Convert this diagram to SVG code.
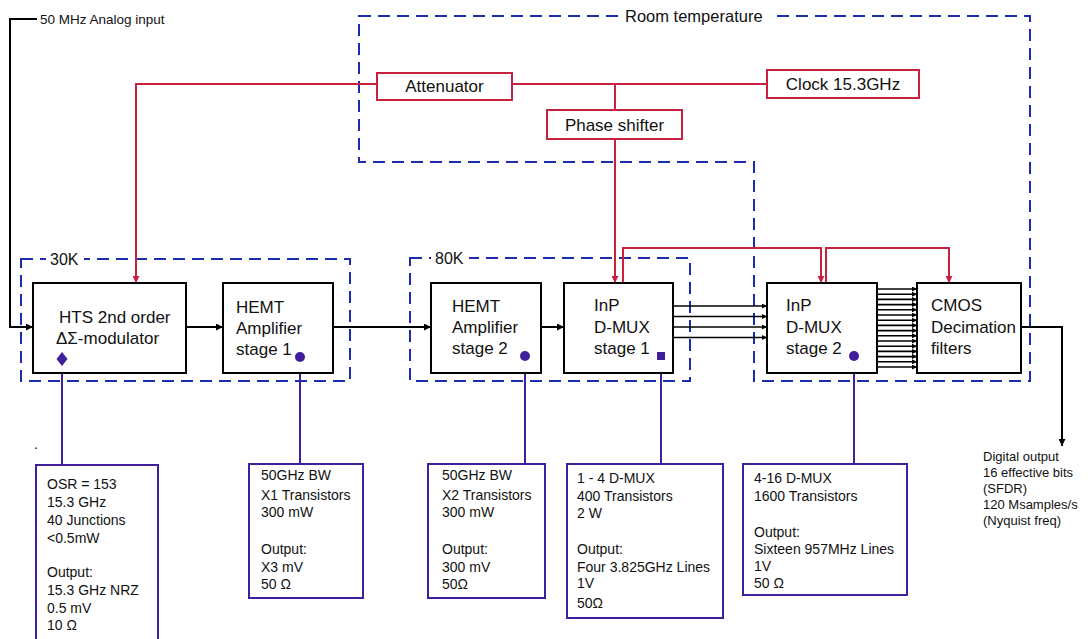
<svg xmlns="http://www.w3.org/2000/svg" width="1088" height="639" viewBox="0 0 1088 639">
<style>
text{font-family:"Liberation Sans",Arial,sans-serif;fill:#111}
.blk{fill:#fff;stroke:#000;stroke-width:2}
.red{fill:#fff;stroke:#c8203f;stroke-width:2}
.pur{fill:#fff;stroke:#3f1f9c;stroke-width:2}
.zone{fill:none;stroke:#1c2cae;stroke-width:2;stroke-dasharray:12 7}
.big{font-size:17px}
.lbl{font-size:16px}
.info{font-size:14px}
.sm{font-size:13px}
.wl{fill:none;stroke:#000;stroke-width:2}
.rl{fill:none;stroke:#c8203f;stroke-width:2}
.pl{fill:none;stroke:#3f1f9c;stroke-width:2}
.bus{fill:none;stroke:#000;stroke-width:1.6}
</style>
<defs>
<marker id="ab" viewBox="0 0 10 10" refX="10" refY="5" markerWidth="8" markerHeight="7" markerUnits="userSpaceOnUse" orient="auto"><path d="M0,0 L10,5 L0,10 z" fill="#000"/></marker>
<marker id="abs" viewBox="0 0 10 10" refX="10" refY="5" markerWidth="7" markerHeight="5" markerUnits="userSpaceOnUse" orient="auto"><path d="M0,0 L10,5 L0,10 z" fill="#000"/></marker>
<marker id="ar" viewBox="0 0 10 10" refX="10" refY="5" markerWidth="8" markerHeight="7" markerUnits="userSpaceOnUse" orient="auto"><path d="M0,0 L10,5 L0,10 z" fill="#c8203f"/></marker>
</defs>
<rect width="1088" height="639" fill="#fff"/>

<g id="zones">
<path class="zone" d="M359,16 H1030 V381 H754 V162 H359 Z"/>
<rect class="zone" x="21" y="259" width="329" height="122"/>
<rect class="zone" x="410" y="258" width="280" height="123"/>
<rect x="620" y="8" width="152" height="16" fill="#fff"/>
<text x="625" y="22" font-size="16.5">Room temperature</text>
<rect x="46" y="250" width="38" height="16" fill="#fff"/>
<text x="50" y="265" class="lbl">30K</text>
<rect x="431" y="249" width="38" height="16" fill="#fff"/>
<text x="435" y="264" class="lbl">80K</text>
</g>

<g id="connectors">
<path class="wl" d="M37,19 H10 V327 H33" marker-end="url(#ab)"/>
<path class="wl" d="M186,327 H223" marker-end="url(#ab)"/>
<path class="wl" d="M333,327 H431" marker-end="url(#ab)"/>
<path class="wl" d="M541,327 H564" marker-end="url(#ab)"/>
<path class="bus" d="M673,306 H767" marker-end="url(#abs)"/>
<path class="bus" d="M673,316.5 H767" marker-end="url(#abs)"/>
<path class="bus" d="M673,327 H767" marker-end="url(#abs)"/>
<path class="bus" d="M673,337.5 H767" marker-end="url(#abs)"/>
<g class="bus">
<path d="M877,289 H917" marker-end="url(#abs)"/>
<path d="M877,294.2 H917" marker-end="url(#abs)"/>
<path d="M877,299.4 H917" marker-end="url(#abs)"/>
<path d="M877,304.6 H917" marker-end="url(#abs)"/>
<path d="M877,309.8 H917" marker-end="url(#abs)"/>
<path d="M877,315 H917" marker-end="url(#abs)"/>
<path d="M877,320.2 H917" marker-end="url(#abs)"/>
<path d="M877,325.4 H917" marker-end="url(#abs)"/>
<path d="M877,330.6 H917" marker-end="url(#abs)"/>
<path d="M877,335.8 H917" marker-end="url(#abs)"/>
<path d="M877,341 H917" marker-end="url(#abs)"/>
<path d="M877,346.2 H917" marker-end="url(#abs)"/>
<path d="M877,351.4 H917" marker-end="url(#abs)"/>
<path d="M877,356.6 H917" marker-end="url(#abs)"/>
<path d="M877,361.8 H917" marker-end="url(#abs)"/>
<path d="M877,367 H917" marker-end="url(#abs)"/>
</g>
<path class="wl" d="M1021,327 H1062 V446" marker-end="url(#ab)"/>
<path class="rl" d="M377,84 H136 V283" marker-end="url(#ar)"/>
<path class="rl" d="M512,84 H767"/>
<path class="rl" d="M615,84 V110"/>
<path class="rl" d="M615,139 V283" marker-end="url(#ar)"/>
<path class="rl" d="M623,283 V248 H821 V283" marker-end="url(#ar)"/>
<path class="rl" d="M826,283 V248 H949 V283" marker-end="url(#ar)"/>
<path class="pl" d="M62,359 V465"/>
<path class="pl" d="M300,357 V464"/>
<path class="pl" d="M525,356 V464"/>
<path class="pl" d="M661,356 V464"/>
<path class="pl" d="M854,356 V464"/>
</g>

<g id="input-label"><text x="40" y="24" font-size="13.5">50 MHz Analog input</text></g>

<g id="attenuator"><rect class="red" x="377" y="73" width="135" height="27"/><text x="444.5" y="92" class="big" text-anchor="middle">Attenuator</text></g>
<g id="clock"><rect class="red" x="767" y="70" width="152" height="28"/><text x="843" y="90" class="big" text-anchor="middle">Clock 15.3GHz</text></g>
<g id="phase-shifter"><rect class="red" x="547" y="110" width="135" height="29"/><text x="614.5" y="131" class="big" text-anchor="middle">Phase shifter</text></g>

<g id="hts"><rect class="blk" x="33" y="283" width="153" height="90"/><text x="59" y="323" class="big">HTS 2nd order</text><text x="56" y="344" class="big">ΔΣ-modulator</text></g>
<g id="hemt1"><rect class="blk" x="223" y="283" width="110" height="90"/><text x="236" y="313" class="big">HEMT</text><text x="236" y="334" class="big">Amplifier</text><text x="236" y="355" class="big">stage 1</text></g>
<g id="hemt2"><rect class="blk" x="431" y="283" width="110" height="90"/><text x="452" y="312" class="big">HEMT</text><text x="452" y="333" class="big">Amplifier</text><text x="452" y="354" class="big">stage 2</text></g>
<g id="inp1"><rect class="blk" x="564" y="283" width="109" height="90"/><text x="594" y="311" class="big">InP</text><text x="594" y="333" class="big">D-MUX</text><text x="594" y="354" class="big">stage 1</text></g>
<g id="inp2"><rect class="blk" x="767" y="283" width="110" height="90"/><text x="786" y="311" class="big">InP</text><text x="786" y="333" class="big">D-MUX</text><text x="786" y="354" class="big">stage 2</text></g>
<g id="cmos"><rect class="blk" x="917" y="283" width="104" height="90"/><text x="931" y="311" class="big">CMOS</text><text x="931" y="333" class="big">Decimation</text><text x="931" y="354" class="big">filters</text></g>

<g id="markers">
<path d="M62,352 L67.5,359 L62,366 L56.5,359 Z" fill="#3f1f9c"/>
<circle cx="300" cy="357" r="5" fill="#3f1f9c"/>
<circle cx="525" cy="356" r="5" fill="#3f1f9c"/>
<rect x="657" y="352" width="8" height="8" fill="#3f1f9c"/>
<circle cx="854" cy="356" r="5" fill="#3f1f9c"/>
</g>

<g id="info-hts"><rect class="pur" x="36" y="465" width="122" height="180"/>
<text class="info" x="47" y="489">OSR =  153</text><text class="info" x="47" y="507">15.3 GHz</text><text class="info" x="47" y="525">40 Junctions</text><text class="info" x="47" y="543">&lt;0.5mW</text>
<text class="info" x="47" y="577">Output:</text><text class="info" x="47" y="595">15.3 GHz NRZ</text><text class="info" x="47" y="613">0.5 mV</text><text class="info" x="47" y="630">10 Ω</text></g>
<g id="stray-dot"><text class="info" x="34" y="449">.</text></g>

<g id="info-hemt1"><rect class="pur" x="249" y="464" width="114" height="134"/>
<text class="info" x="261" y="480">50GHz BW</text><text class="info" x="261" y="500">X1 Transistors</text><text class="info" x="261" y="517">300 mW</text>
<text class="info" x="261" y="554">Output:</text><text class="info" x="261" y="572">X3 mV</text><text class="info" x="261" y="589">50 Ω</text></g>

<g id="info-hemt2"><rect class="pur" x="428" y="464" width="117" height="134"/>
<text class="info" x="442" y="480">50GHz BW</text><text class="info" x="442" y="500">X2 Transistors</text><text class="info" x="442" y="517">300 mW</text>
<text class="info" x="442" y="554">Output:</text><text class="info" x="442" y="572">300 mV</text><text class="info" x="442" y="589">50Ω</text></g>

<g id="info-inp1"><rect class="pur" x="567" y="464" width="156" height="154"/>
<text class="info" x="577" y="483">1 - 4 D-MUX</text><text class="info" x="577" y="501">400 Transistors</text><text class="info" x="577" y="518">2 W</text>
<text class="info" x="577" y="554">Output:</text><text class="info" x="577" y="572">Four 3.825GHz Lines</text><text class="info" x="577" y="588">1V</text><text class="info" x="577" y="608">50Ω</text></g>

<g id="info-inp2"><rect class="pur" x="743" y="464" width="164" height="131"/>
<text class="info" x="754" y="483">4-16 D-MUX</text><text class="info" x="754" y="501">1600 Transistors</text>
<text class="info" x="754" y="537">Output:</text><text class="info" x="754" y="554">Sixteen 957MHz Lines</text><text class="info" x="754" y="571">1V</text><text class="info" x="754" y="588">50 Ω</text></g>

<g id="digital-output">
<text class="sm" x="983" y="461">Digital output</text><text class="sm" x="983" y="477">16 effective bits</text><text class="sm" x="983" y="493">(SFDR)</text><text class="sm" x="983" y="509">120 Msamples/s</text><text class="sm" x="983" y="525">(Nyquist freq)</text>
</g>
</svg>
